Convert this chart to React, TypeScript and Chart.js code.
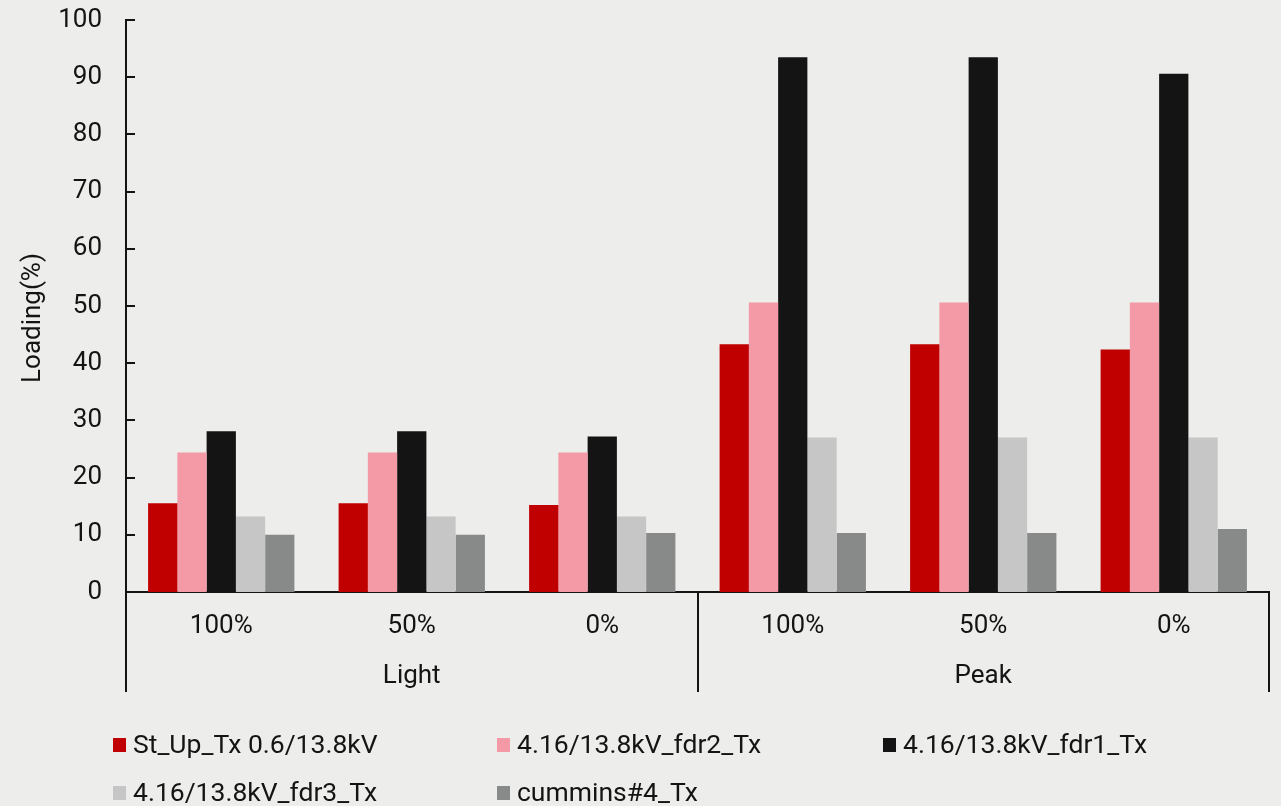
import React, { useEffect, useRef } from "react";
import { Chart, registerables } from "chart.js";

Chart.register(...registerables);

// Operating cases along the x axis
const caseLabels = ["100%", "50%", "0%", "100%", "50%", "0%"];
// Load level groups, each spanning three cases
const groupNames = ["Light", "Peak"];
const groupSpans = [[0, 2], [3, 5]];

// Transformer loading (%) per case
const stUpTx = [15.5, 15.5, 15.2, 43.3, 43.3, 42.4];
const fdr2Tx = [24.4, 24.4, 24.4, 50.6, 50.6, 50.6];
const fdr1Tx = [28.1, 28.1, 27.2, 93.5, 93.5, 90.6];
const fdr3Tx = [13.2, 13.2, 13.2, 27.0, 27.0, 27.0];
const cumminsTx = [10.0, 10.0, 10.3, 10.3, 10.3, 11.0];

const seriesNames = [
  "St_Up_Tx 0.6/13.8kV",
  "4.16/13.8kV_fdr2_Tx",
  "4.16/13.8kV_fdr1_Tx",
  "4.16/13.8kV_fdr3_Tx",
  "cummins#4_Tx",
];
const seriesColors = ["#C00000", "#F39AA6", "#141414", "#C6C6C6", "#878A89"];
const seriesValues = [stUpTx, fdr2Tx, fdr1Tx, fdr3Tx, cumminsTx];

const yTicks = [0, 10, 20, 30, 40, 50, 60, 70, 80, 90, 100];
const yTitle = "Loading(%)";

const BG = "#EDEDEB";
const INK = "#141414";
const FONT = "Roboto";
const FONT_SIZE = 26;
const LEGEND_FONT_SIZE = 26.5;

// Legend grid: three columns, two rows
const legendCols = [113, 497, 883];
const legendRows = [745, 793];

const decorPlugin = {
  id: "decor",
  beforeDraw(chart: any) {
    const { ctx, width, height } = chart;
    ctx.save();
    ctx.fillStyle = BG;
    ctx.fillRect(0, 0, width, height);
    ctx.restore();
  },
  afterDraw(chart: any) {
    const { ctx, chartArea } = chart;
    const x = chart.scales.x;
    const y = chart.scales.y;
    ctx.save();
    ctx.strokeStyle = INK;
    ctx.lineWidth = 2;

    // inward tick marks on the value axis
    y.ticks.forEach((_t: any, i: number) => {
      const py = Math.round(y.getPixelForTick(i));
      ctx.beginPath();
      ctx.moveTo(chartArea.left, py);
      ctx.lineTo(chartArea.left + 9, py);
      ctx.stroke();
    });

    // group separators and group names below the case labels
    const sepBottom = chartArea.bottom + 100;
    const bounds = new Set<number>();
    groupSpans.forEach(([a, b]) => {
      bounds.add(a - 0.5);
      bounds.add(b + 0.5);
    });
    bounds.forEach((v) => {
      const px = Math.round(x.getPixelForValue(v));
      ctx.beginPath();
      ctx.moveTo(px, chartArea.bottom);
      ctx.lineTo(px, sepBottom);
      ctx.stroke();
    });

    ctx.fillStyle = INK;
    ctx.font = `${FONT_SIZE}px ${FONT}`;
    ctx.textAlign = "center";
    ctx.textBaseline = "middle";
    groupSpans.forEach(([a, b], i) => {
      const cx = (x.getPixelForValue(a - 0.5) + x.getPixelForValue(b + 0.5)) / 2;
      ctx.fillText(groupNames[i], cx, chartArea.bottom + 84);
    });

    // value axis title
    ctx.save();
    ctx.translate(33, (chartArea.top + chartArea.bottom) / 2 + 12);
    ctx.rotate(-Math.PI / 2);
    ctx.fillText(yTitle, 0, 0);
    ctx.restore();

    // legend
    ctx.textAlign = "left";
    ctx.font = `${LEGEND_FONT_SIZE}px ${FONT}`;
    chart.data.datasets.forEach((ds: any, i: number) => {
      const lx = legendCols[i % 3];
      const ly = legendRows[Math.floor(i / 3)];
      ctx.fillStyle = ds.backgroundColor;
      ctx.fillRect(lx, ly - 7, 13, 14);
      ctx.fillStyle = INK;
      ctx.fillText(ds.label, lx + 20, ly + 1);
    });
    ctx.restore();
  },
};

export default function App() {
  const canvasRef = useRef<HTMLCanvasElement | null>(null);

  useEffect(() => {
    document.body.style.margin = "0";
    document.body.style.background = BG;
    const canvas = canvasRef.current;
    if (!canvas) return;
    const chart = new Chart(canvas, {
      type: "bar",
      data: {
        labels: caseLabels,
        datasets: seriesNames.map((name, i) => ({
          label: name,
          data: seriesValues[i],
          backgroundColor: seriesColors[i],
          borderWidth: 0,
          categoryPercentage: 0.768,
          barPercentage: 1.0,
        })),
      },
      options: {
        responsive: false,
        maintainAspectRatio: false,
        animation: false,
        devicePixelRatio: 1,
        layout: { padding: { top: 0, right: 12, left: 0, bottom: 0 } },
        plugins: {
          legend: { display: false },
          tooltip: { enabled: false },
        },
        scales: {
          x: {
            grid: { display: false, drawTicks: false },
            border: { display: true, color: INK, width: 2 },
            ticks: {
              color: INK,
              font: { family: FONT, size: FONT_SIZE },
              padding: 19,
              maxRotation: 0,
            },
            afterFit(scale: any) {
              scale.height = 214;
            },
          },
          y: {
            min: 0,
            max: 100,
            afterBuildTicks(scale: any) {
              scale.ticks = yTicks.map((v) => ({ value: v }));
            },
            grid: { display: false, drawTicks: false },
            border: { display: true, color: INK, width: 2 },
            ticks: {
              color: INK,
              font: { family: FONT, size: FONT_SIZE },
              padding: 24,
            },
            afterFit(scale: any) {
              scale.width = 126;
              scale.paddingTop = 20;
              scale.paddingBottom = 0;
            },
          },
        },
      },
      plugins: [decorPlugin],
    });
    return () => chart.destroy();
  }, []);

  return (
    <div style={{ position: "fixed", left: 0, top: 0, width: 1281, height: 806, background: BG }}>
      <canvas ref={canvasRef} width={1281} height={806} />
    </div>
  );
}
